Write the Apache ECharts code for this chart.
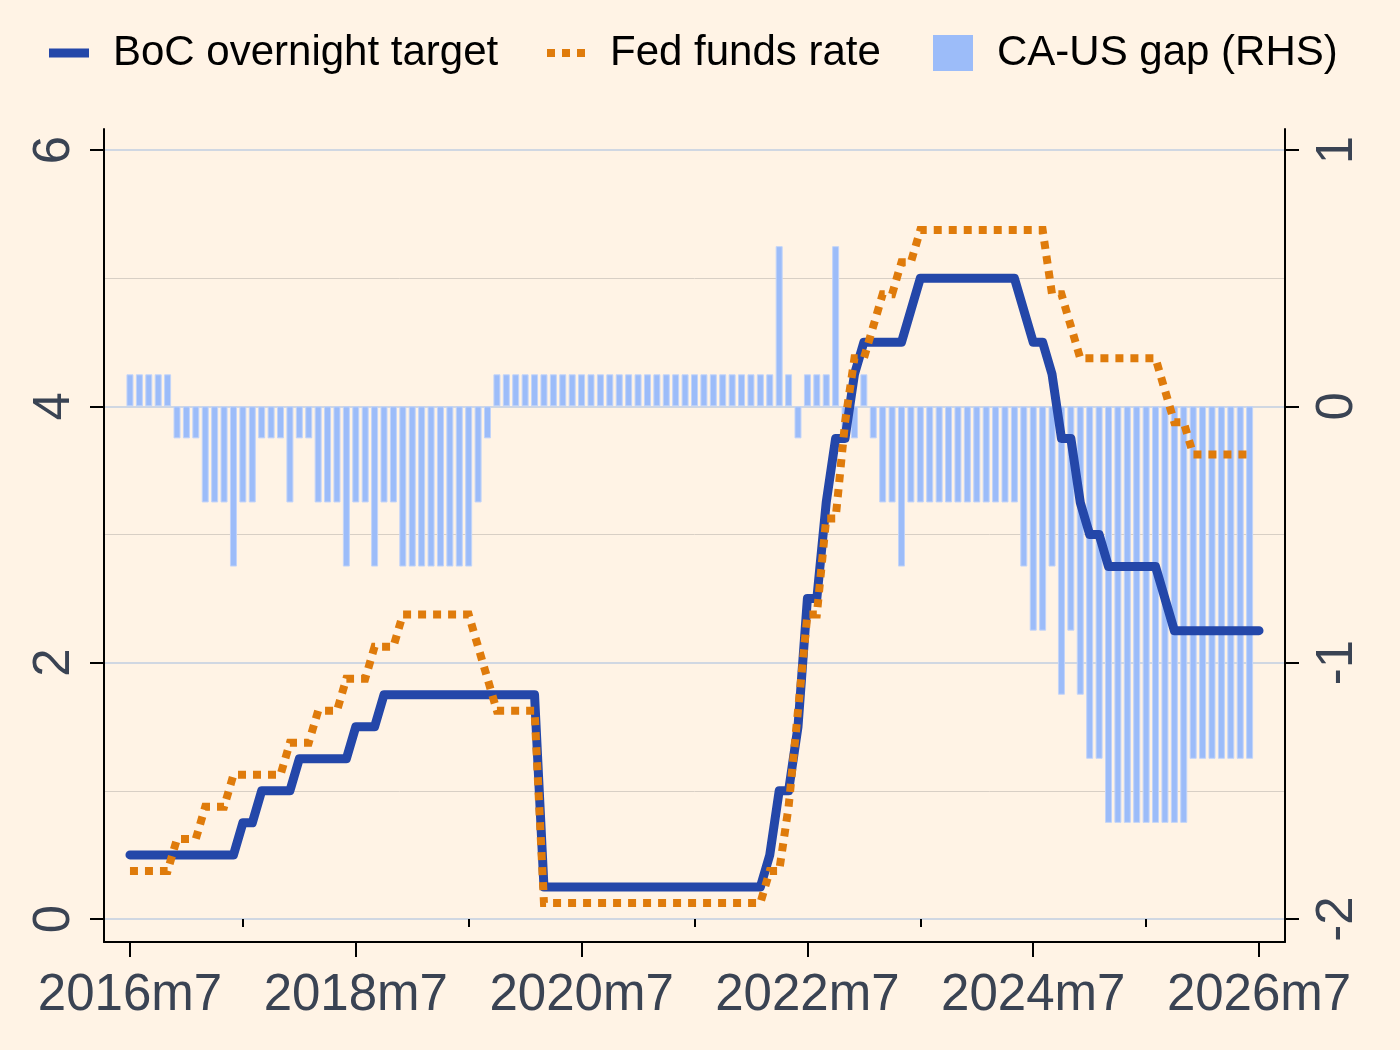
<!DOCTYPE html>
<html><head><meta charset="utf-8">
<script src="https://cdn.jsdelivr.net/npm/echarts@6/dist/echarts.min.js"></script>
<style>html,body{margin:0;padding:0;background:#fff3e5}#c{width:1400px;height:1050px}</style>
</head><body><div id="c"></div>
<script>
// x = months since 2016m7 (0 .. 120)
const tickLabels = ['2016m7','2018m7','2020m7','2022m7','2024m7','2026m7'];
const labelMonths = [0, 24, 48, 72, 96, 120];
const minorTickMonths = [12, 36, 60, 84, 108];

// BoC overnight target, month-end, 2016m7 .. 2026m7
const boc = [
  0.5,0.5,0.5,0.5,0.5,0.5,0.5,0.5,0.5,0.5,0.5,0.5,
  0.75,0.75,1.0,1.0,1.0,1.0,
  1.25,1.25,1.25,1.25,1.25,1.25,
  1.5,1.5,1.5,
  1.75,1.75,1.75,1.75,1.75,1.75,1.75,1.75,1.75,1.75,1.75,1.75,1.75,1.75,1.75,1.75,1.75,
  0.25,0.25,0.25,0.25,0.25,0.25,0.25,0.25,0.25,0.25,0.25,0.25,
  0.25,0.25,0.25,0.25,0.25,0.25,0.25,0.25,0.25,0.25,0.25,0.25,
  0.5,1.0,1.0,1.5,2.5,2.5,3.25,3.75,3.75,4.25,
  4.5,4.5,4.5,4.5,4.5,4.75,
  5.0,5.0,5.0,5.0,5.0,5.0,5.0,5.0,5.0,5.0,5.0,
  4.75,4.5,4.5,4.25,3.75,3.75,3.25,3.0,3.0,
  2.75,2.75,2.75,2.75,2.75,2.75,2.5,
  2.25,2.25,2.25,2.25,2.25,2.25,2.25,2.25,2.25,2.25
];

// Fed funds rate (mid-point of target range), 2016m7 .. 2026m6
const fed = [
  0.375,0.375,0.375,0.375,0.375,
  0.625,0.625,0.625,0.875,0.875,0.875,
  1.125,1.125,1.125,1.125,1.125,1.125,
  1.375,1.375,1.375,1.625,1.625,1.625,
  1.875,1.875,1.875,2.125,2.125,2.125,
  2.375,2.375,2.375,2.375,2.375,2.375,2.375,2.375,
  2.125,1.875,1.625,1.625,1.625,1.625,1.625,
  0.125,0.125,0.125,0.125,0.125,0.125,0.125,0.125,0.125,0.125,0.125,0.125,
  0.125,0.125,0.125,0.125,0.125,0.125,0.125,0.125,0.125,0.125,0.125,0.125,
  0.375,0.375,0.875,1.625,2.375,2.375,3.125,3.125,3.875,4.375,4.375,
  4.625,4.875,4.875,5.125,5.125,
  5.375,5.375,5.375,5.375,5.375,5.375,5.375,5.375,5.375,5.375,5.375,5.375,5.375,5.375,
  4.875,4.875,4.625,
  4.375,4.375,4.375,4.375,4.375,4.375,4.375,4.375,4.375,
  4.125,3.875,3.875,
  3.625,3.625,3.625,3.625,3.625,3.625,3.625
];

// CA-US gap (RHS), 2016m7 .. 2026m6
const gap = [
  0.125,0.125,0.125,0.125,0.125,
  -0.125,-0.125,-0.125,-0.375,-0.375,-0.375,-0.625,-0.375,-0.375,
  -0.125,-0.125,-0.125,-0.375,-0.125,-0.125,
  -0.375,-0.375,-0.375,-0.625,-0.375,-0.375,-0.625,-0.375,-0.375,
  -0.625,-0.625,-0.625,-0.625,-0.625,-0.625,-0.625,-0.625,
  -0.375,-0.125,
  0.125,0.125,0.125,0.125,0.125,0.125,0.125,0.125,0.125,0.125,
  0.125,0.125,0.125,0.125,0.125,0.125,0.125,0.125,0.125,0.125,
  0.125,0.125,0.125,0.125,0.125,0.125,0.125,0.125,0.125,0.125,
  0.625,0.125,-0.125,0.125,0.125,0.125,0.625,-0.125,-0.125,0.125,-0.125,
  -0.375,-0.375,-0.625,
  -0.375,-0.375,-0.375,-0.375,-0.375,-0.375,-0.375,-0.375,-0.375,-0.375,-0.375,-0.375,
  -0.625,-0.875,-0.875,-0.625,-1.125,-0.875,-1.125,-1.375,-1.375,
  -1.625,-1.625,-1.625,-1.625,-1.625,-1.625,-1.625,-1.625,-1.625,
  -1.375,-1.375,-1.375,-1.375,-1.375,-1.375,-1.375
];

const leftTicks = [0, 2, 4, 6];
const leftMinorGrid = [1, 3, 5];
const rightTicks = [-2, -1, 0, 1];

const FONT = 'Liberation Sans, Arial, Helvetica, sans-serif';
const LABEL_COLOR = '#3a4353';
const BOC_COLOR = '#2447a9';
const FED_COLOR = '#df7b0b';
const GAP_COLOR = '#9cbcf9';

const XMIN = -2.76, XMAX = 122.76;
const LMIN = -0.1795, LMAX = 6.164;
const RMIN = (LMIN - 4) / 2, RMAX = (LMAX - 4) / 2;

// legend icons (40 x 36 box; invisible corner points fix the bounding box)
const ICON_SOLID = 'path://M0,0L0,0M40,36L40,36M0,13.5L40,13.5L40,22.5L0,22.5Z';
const ICON_DOTS = 'path://M0,0L0,0M40,36L40,36M1,14L9,14L9,22L1,22ZM16,14L24,14L24,22L16,22ZM31,14L39,14L39,22L31,22Z';

const chart = echarts.init(document.getElementById('c'), null, {renderer: 'canvas'});

function legendItem(name, left, icon, color) {
  return {
    data: [{name: name, icon: icon, itemStyle: {color: color, borderWidth: 0}}],
    left: left, top: 32, padding: 0,
    itemWidth: 40, itemHeight: 36, selectedMode: false,
    textStyle: {fontFamily: FONT, fontSize: 42, color: '#000', padding: [0, 0, 0, 19]}
  };
}

chart.setOption({
  backgroundColor: '#fff3e5',
  animation: false,
  textStyle: {fontFamily: FONT},
  legend: [
    legendItem('BoC overnight target', 49, ICON_SOLID, BOC_COLOR),
    legendItem('Fed funds rate', 546, ICON_DOTS, FED_COLOR),
    legendItem('CA-US gap (RHS)', 933, 'rect', GAP_COLOR)
  ],
  grid: {left: 104, right: 115, top: 129, bottom: 108, containLabel: false},
  xAxis: [{
    type: 'value', min: XMIN, max: XMAX, position: 'bottom',
    axisLine: {show: true, onZero: false, lineStyle: {color: '#000', width: 2}},
    axisTick: {show: true, customValues: labelMonths, length: 15, lineStyle: {color: '#000', width: 2}},
    axisLabel: {
      show: true, customValues: labelMonths, margin: 28,
      fontSize: 51, color: LABEL_COLOR, fontFamily: FONT,
      formatter: v => tickLabels[labelMonths.indexOf(Math.round(v))] || ''
    },
    splitLine: {show: false}
  }, {
    type: 'value', min: XMIN, max: XMAX, position: 'bottom', offset: 0,
    axisLine: {show: false},
    axisTick: {show: true, customValues: minorTickMonths, length: 8, lineStyle: {color: '#000', width: 2}},
    axisLabel: {show: false},
    splitLine: {show: false}
  }],
  yAxis: [{
    type: 'value', min: LMIN, max: LMAX, position: 'left',
    axisLine: {show: true, onZero: false, lineStyle: {color: '#000', width: 2}},
    axisTick: {show: true, customValues: leftTicks, length: 14, lineStyle: {color: '#000', width: 2}},
    axisLabel: {show: true, customValues: leftTicks, rotate: 90, margin: 24,
      fontSize: 51, color: LABEL_COLOR, fontFamily: FONT},
    splitLine: {show: true, lineStyle: {color: '#d0d7e2', width: 2}}
  }, {
    type: 'value', min: RMIN, max: RMAX, position: 'right',
    axisLine: {show: true, onZero: false, lineStyle: {color: '#000', width: 2}},
    axisTick: {show: true, customValues: rightTicks, length: 14, lineStyle: {color: '#000', width: 2}},
    axisLabel: {show: true, customValues: rightTicks, rotate: 90, margin: 27,
      fontSize: 51, color: LABEL_COLOR, fontFamily: FONT},
    splitLine: {show: false}
  }, {
    type: 'value', min: LMIN, max: LMAX, position: 'left', offset: 0,
    axisLine: {show: false},
    axisTick: {show: false, customValues: leftMinorGrid},
    axisLabel: {show: false},
    splitLine: {show: true, lineStyle: {color: '#d8cfc5', width: 1}}
  }],
  series: [{
    name: 'CA-US gap (RHS)', type: 'bar', xAxisIndex: 0, yAxisIndex: 1,
    data: gap.map((v, i) => [i, v]),
    barWidth: 7, z: 1,
    itemStyle: {color: GAP_COLOR, borderColor: '#c2d4f9', borderWidth: 1}
  }, {
    name: 'BoC overnight target', type: 'line', xAxisIndex: 0, yAxisIndex: 0,
    data: boc.map((v, i) => [i, v]),
    symbol: 'none', z: 2,
    lineStyle: {color: BOC_COLOR, width: 9, cap: 'round', join: 'round'},
    itemStyle: {color: BOC_COLOR}
  }, {
    name: 'Fed funds rate', type: 'line', xAxisIndex: 0, yAxisIndex: 0,
    data: fed.map((v, i) => [i, v]),
    symbol: 'none', z: 3,
    lineStyle: {color: FED_COLOR, width: 8, type: [8, 7], cap: 'butt', join: 'miter'},
    itemStyle: {color: FED_COLOR}
  }]
});
</script>
</body></html>
